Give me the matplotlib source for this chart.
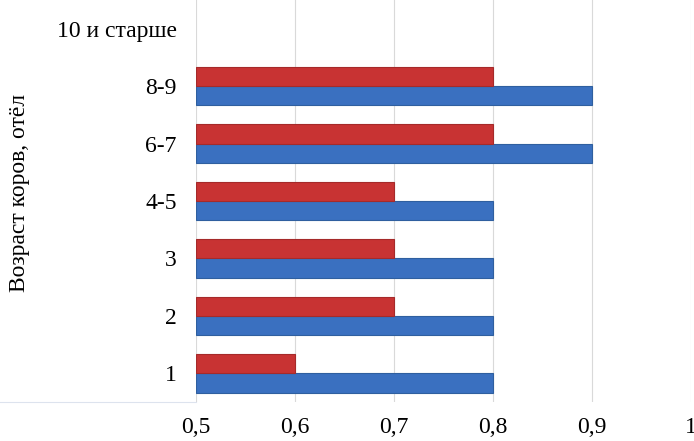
import matplotlib
matplotlib.use("Agg")
import matplotlib.pyplot as plt
import numpy as np

# данные с графика
categories = ["1", "2", "3", "4-5", "6-7", "8-9", "10 и старше"]
blue_vals = [0.8, 0.8, 0.8, 0.8, 0.9, 0.9, np.nan]
red_vals = [0.6, 0.7, 0.7, 0.7, 0.8, 0.8, np.nan]
xticks = [0.5, 0.6, 0.7, 0.8, 0.9, 1.0]
xtick_labels = ["0,5", "0,6", "0,7", "0,8", "0,9", "1"]

plt.rcParams['font.family'] = ['Liberation Serif', 'DejaVu Serif']

fig = plt.figure(figsize=(6.94, 4.41), dpi=100)
ax = fig.add_axes([0.2824, 0.0884, 0.7133, 0.9116])

y = np.arange(len(categories))
h = 0.335
base = 0.5
ax.barh(y - h / 2, np.array(blue_vals) - base, height=h, left=base,
        color='#3a70c0', edgecolor='#2f5f9f', linewidth=0.8, zorder=3)
ax.barh(y + h / 2, np.array(red_vals) - base, height=h, left=base,
        color='#c83333', edgecolor='#a52a2a', linewidth=0.8, zorder=3)

ax.set_xlim(0.5, 1.0)
ax.set_ylim(-0.5, len(categories) - 0.5)
ax.set_xticks(xticks)
ax.set_xticklabels(xtick_labels, fontsize=17)
ax.set_yticks(y)
ax.set_yticklabels(categories, fontsize=17)
ax.tick_params(axis='both', length=0)
ax.tick_params(axis='x', pad=11)
ax.tick_params(axis='y', pad=14)

ax.grid(axis='x', color='#d9d9d9', linewidth=0.8, zorder=0)
for s in ax.spines.values():
    s.set_visible(False)

ax.set_ylabel("Возраст коров, отёл", fontsize=17)
ax.yaxis.set_label_coords(-0.335, 0.52)

# бледная линия под подписями категорий
fig.add_artist(plt.Line2D([0.0, 0.2824], [0.0884, 0.0884], color='#dde3ee',
                          linewidth=0.8, transform=fig.transFigure))

fig.savefig("out.png", dpi=100)
